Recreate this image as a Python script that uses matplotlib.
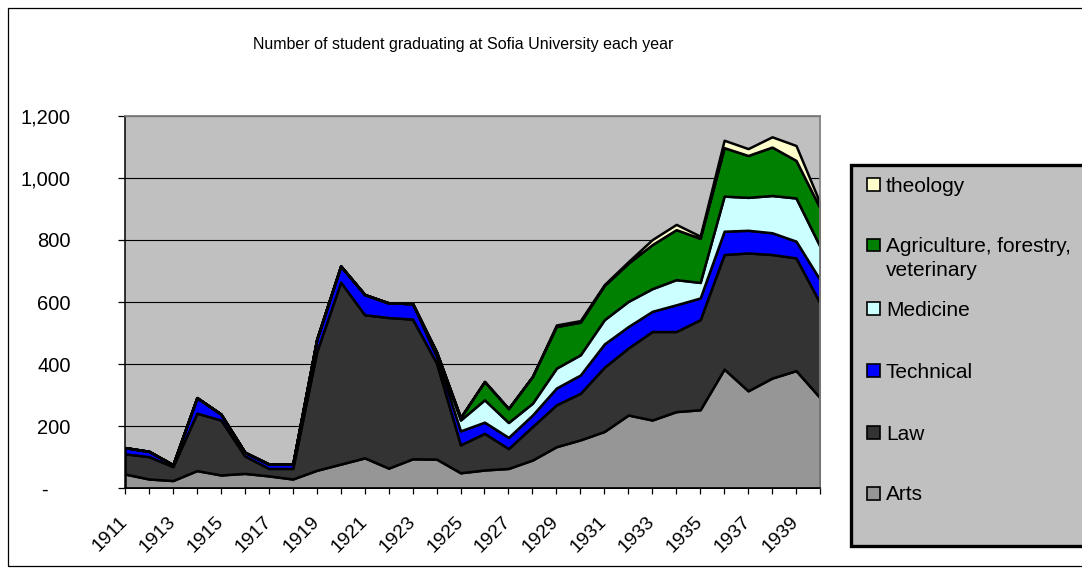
import numpy as np
import matplotlib
matplotlib.use("Agg")
import matplotlib.pyplot as plt
from matplotlib.patches import Rectangle
from matplotlib.ticker import FuncFormatter
import matplotlib.transforms as mtransforms

plt.rcParams['font.family'] = ['Liberation Sans', 'DejaVu Sans']

years = list(range(1911, 1941))
arts = [46, 30, 25, 57, 43, 48, 40, 30, 58, 78, 98, 65, 95, 94, 50, 59, 64, 91, 134, 156,
        183, 236, 220, 247, 253, 384, 314, 355, 379, 292]
law = [65, 72, 45, 185, 177, 56, 24, 34, 382, 586, 461, 485, 450, 309, 90, 118, 64, 108, 135, 150,
       207, 216, 285, 258, 290, 369, 444, 398, 363, 305]
technical = [20, 17, 6, 50, 19, 12, 14, 14, 40, 52, 65, 47, 50, 22, 45, 36, 36, 37, 54, 59,
             75, 69, 65, 86, 70, 75, 73, 70, 54, 75]
medicine = [0, 0, 0, 0, 0, 0, 0, 0, 0, 0, 0, 0, 0, 12, 35, 72, 48, 38, 64, 65,
            78, 81, 73, 81, 50, 113, 106, 120, 139, 107]
agriculture = [0, 0, 0, 0, 0, 0, 0, 0, 0, 0, 0, 0, 0, 2, 8, 59, 45, 86, 134, 105,
               110, 123, 142, 161, 142, 156, 135, 156, 121, 124]
theology = [0, 0, 0, 0, 0, 0, 0, 0, 0, 0, 0, 0, 0, 0, 0, 0, 0, 0, 5, 5,
            3, 5, 16, 17, 7, 24, 22, 33, 48, 16]

series_colors = ["#969696", "#333333", "#0000FF", "#CCFFFF", "#008000", "#FFFFCC"]
title = "Number of student graduating at Sofia University each year"

W, H = 1082, 568
fig = plt.figure(figsize=(W / 100, H / 100), dpi=100)

def fx(px):
    return px / W

def fy(py):
    return 1 - py / H

# outer chart border
fig.patches.append(Rectangle((fx(8), fy(566)), fx(1100) - fx(8), fy(8) - fy(566),
                             transform=fig.transFigure, fill=False, edgecolor='black',
                             linewidth=0.9, zorder=0))

left, right, top, bottom = 125, 820, 115.7, 488.3
ax = fig.add_axes([fx(left), fy(bottom), fx(right - left), fy(top) - fy(bottom)])
ax.set_facecolor("#C0C0C0")

x = np.arange(len(years))
ax.stackplot(x, arts, law, technical, medicine, agriculture, theology,
             colors=series_colors, edgecolor='black', linewidth=1.8, zorder=2)

ax.set_xlim(0, len(years) - 1)
ax.set_ylim(0, 1200)
ax.set_yticks(np.arange(0, 1201, 200))
ax.yaxis.set_major_formatter(FuncFormatter(lambda v, p: "-    " if v == 0 else f"{int(v):,}"))
ax.grid(axis='y', color='black', linewidth=0.8, zorder=1)
ax.set_axisbelow(True)

ax.set_xticks(x)
ax.set_xticklabels([str(y) if (y - 1911) % 2 == 0 else "" for y in years],
                   rotation=45, ha='right', va='center', rotation_mode='anchor')
offset = mtransforms.ScaledTranslation(-2 / 100, 0, fig.dpi_scale_trans)
for lbl in ax.get_xticklabels():
    lbl.set_transform(lbl.get_transform() + offset)

ax.tick_params(axis='y', direction='out', length=5, width=0.9, pad=34, labelsize=14.5)
ax.tick_params(axis='x', direction='out', length=4, width=0.9, pad=18.5, labelsize=14)

for s in ['left', 'bottom']:
    ax.spines[s].set_color('black')
    ax.spines[s].set_linewidth(1.1)
for s in ['top', 'right']:
    ax.spines[s].set_color('#808080')
    ax.spines[s].set_linewidth(1.3)

fig.text(fx(463), fy(45), title, ha='center', va='center', fontsize=11.5)

# legend box
fig.patches.append(Rectangle((fx(851), fy(546)), fx(1100) - fx(851), fy(165) - fy(546),
                             transform=fig.transFigure, facecolor='#C0C0C0',
                             edgecolor='black', linewidth=2.4, zorder=3))
legend_rows = [("theology", 5, 184), ("Agriculture, forestry,", 4, 245), ("Medicine", 3, 308),
               ("Technical", 2, 370), ("Law", 1, 432), ("Arts", 0, 493)]
sq = 13
for label, idx, cy in legend_rows:
    fig.patches.append(Rectangle((fx(867), fy(cy + sq / 2)), fx(sq), fy(cy - sq / 2) - fy(cy + sq / 2),
                                 transform=fig.transFigure, facecolor=series_colors[idx],
                                 edgecolor='black', linewidth=1.2, zorder=4))
    fig.text(fx(886), fy(cy), label, ha='left', va='center_baseline', fontsize=15, zorder=5)
fig.text(fx(886), fy(269), "veterinary", ha='left', va='center_baseline', fontsize=15, zorder=5)

fig.savefig("out.png", dpi=100)
